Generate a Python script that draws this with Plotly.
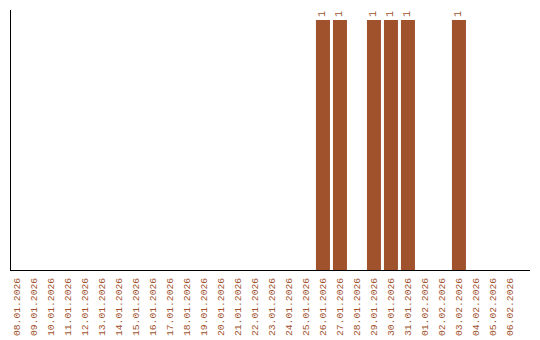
import plotly.graph_objects as go

dates = ["08.01.2026", "09.01.2026", "10.01.2026", "11.01.2026", "12.01.2026",
         "13.01.2026", "14.01.2026", "15.01.2026", "16.01.2026", "17.01.2026",
         "18.01.2026", "19.01.2026", "20.01.2026", "21.01.2026", "22.01.2026",
         "23.01.2026", "24.01.2026", "25.01.2026", "26.01.2026", "27.01.2026",
         "28.01.2026", "29.01.2026", "30.01.2026", "31.01.2026", "01.02.2026",
         "02.02.2026", "03.02.2026", "04.02.2026", "05.02.2026", "06.02.2026"]
values = [0, 0, 0, 0, 0, 0, 0, 0, 0, 0,
          0, 0, 0, 0, 0, 0, 0, 0, 1, 1,
          0, 1, 1, 1, 0, 0, 1, 0, 0, 0]

color = "#a0522d"
labels = [str(v) if v else "" for v in values]
fam = "Liberation Mono"

fig = go.Figure(go.Bar(
    x=dates, y=values, marker_color=color, marker_line_width=0,
    text=labels, textposition="outside", textangle=-90,
    textfont=dict(family=fam, size=10, color=color),
    cliponaxis=False,
))
fig.update_layout(
    width=540, height=340, margin=dict(l=11, r=10, t=10, b=70, autoexpand=False),
    paper_bgcolor="white", plot_bgcolor="white", showlegend=False,
    bargap=0.176,
    font=dict(family=fam, size=10, color=color),
)
fig.update_xaxes(type="category", range=[-0.353, 30.18], showline=True,
                 linecolor="black", linewidth=1, showgrid=False, ticks="",
                 tickangle=-90, tickfont=dict(family=fam, size=9.7, color=color),
                 ticklabelstandoff=3, automargin=False)
fig.update_yaxes(range=[0, 1.04], showline=True, linecolor="black", linewidth=1,
                 showgrid=False, zeroline=False, showticklabels=False, ticks="",
                 automargin=False)
fig.write_html("out.html")
